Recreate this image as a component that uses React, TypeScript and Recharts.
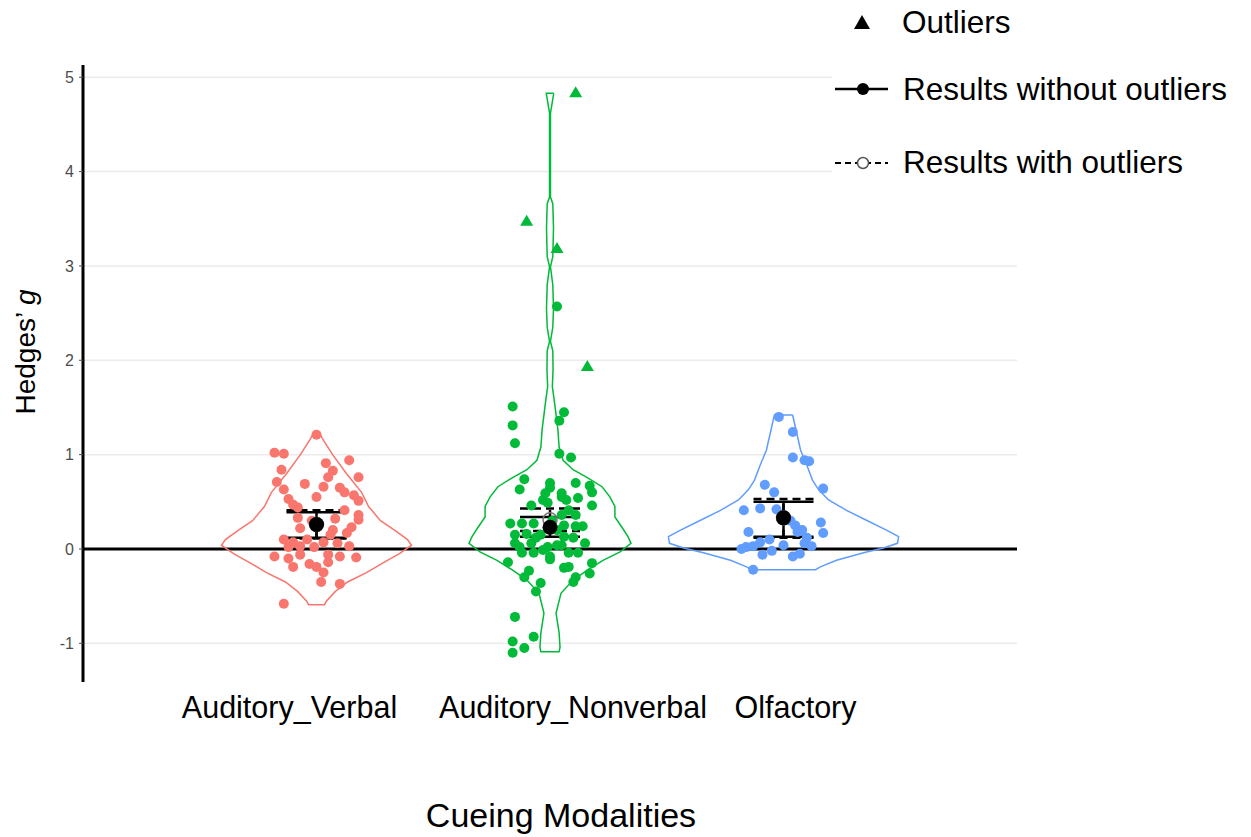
import {
  CartesianGrid,
  ComposedChart,
  ErrorBar,
  Legend,
  ReferenceLine,
  Scatter,
  XAxis,
  YAxis,
} from 'recharts';

const CATEGORIES = ['Auditory_Verbal', 'Auditory_Nonverbal', 'Olfactory'];
const LABEL_SHIFT = [-27, 23, 12];
const Y_TICKS = [-1, 0, 1, 2, 3, 4, 5];
const COLORS = ['#F8766D', '#00BA38', '#619CFF'];

// violin outlines, top to bottom: [g, half width in category units]
const VIOLIN_VERBAL = [
  [1.21, 0.017], [1.15, 0.03], [1.0, 0.069], [0.8, 0.128], [0.6, 0.193], [0.45, 0.223],
  [0.3, 0.274], [0.2, 0.334], [0.1, 0.39], [0.04, 0.407], [-0.05, 0.355], [-0.15, 0.283],
  [-0.25, 0.214], [-0.35, 0.133], [-0.45, 0.081], [-0.55, 0.043], [-0.59, 0.034],
];
const VIOLIN_NONVERBAL = [
  [4.83, 0.016], [4.62, 0.002], [3.73, 0.002], [3.66, 0.012], [3.4, 0.015], [3.1, 0.012],
  [2.99, 0.002], [2.8, 0.012], [2.55, 0.015], [2.35, 0.012], [2.2, 0.002], [2.1, 0.012],
  [1.9, 0.013], [1.72, 0.01], [1.58, 0.018], [1.26, 0.034], [1.08, 0.039], [0.94, 0.056],
  [0.84, 0.099], [0.76, 0.158], [0.66, 0.223], [0.55, 0.257], [0.45, 0.278], [0.34, 0.278],
  [0.23, 0.308], [0.13, 0.334], [0.06, 0.347], [-0.03, 0.3], [-0.12, 0.227], [-0.22, 0.163],
  [-0.33, 0.099], [-0.47, 0.047], [-0.68, 0.026], [-0.89, 0.039], [-1.04, 0.043], [-1.09, 0.039],
];
const VIOLIN_OLFACTORY = [
  [1.42, 0.039], [1.29, 0.051], [1.05, 0.073], [0.87, 0.103], [0.73, 0.124], [0.63, 0.15],
  [0.52, 0.193], [0.41, 0.27], [0.31, 0.351], [0.2, 0.441], [0.13, 0.493], [0.06, 0.488],
  [0.01, 0.428], [-0.04, 0.343], [-0.12, 0.227], [-0.19, 0.158], [-0.22, 0.137],
];

// study effect sizes: [jitter, g]
const POINTS_VERBAL = [
  [0.0, 1.21], [-0.18, 1.02], [-0.14, 1.01], [0.14, 0.94], [0.04, 0.91], [-0.15, 0.84],
  [0.07, 0.83], [0.05, 0.76], [0.18, 0.76], [-0.17, 0.71], [-0.05, 0.69], [0.03, 0.66],
  [0.1, 0.65], [-0.14, 0.63], [0.12, 0.6], [0.16, 0.57], [0.0, 0.55], [-0.12, 0.53],
  [0.18, 0.51], [-0.1, 0.47], [-0.08, 0.44], [0.18, 0.36], [0.18, 0.31], [-0.08, 0.33],
  [0.15, 0.23], [-0.07, 0.22], [0.07, 0.2], [0.13, 0.17], [-0.14, 0.1], [-0.1, 0.07],
  [-0.04, 0.1], [0.03, 0.07], [0.09, 0.06], [-0.12, 0.02], [-0.07, 0.03], [-0.18, -0.08],
  [-0.12, -0.1], [-0.07, -0.06], [0.05, -0.06], [0.1, -0.08], [0.17, -0.09], [-0.1, -0.19],
  [-0.03, -0.16], [0.0, -0.19], [0.03, -0.25], [0.05, -0.14], [0.02, -0.35], [0.1, -0.37],
  [-0.14, -0.58], [0.12, 0.41], [-0.02, 0.3], [0.08, 0.32], [0.14, 0.03], [-0.01, 0.02],
  [0.06, 0.15],
];
const POINTS_NONVERBAL = [
  [-0.16, 1.51], [-0.16, 1.31], [-0.15, 1.12], [0.06, 1.45], [0.04, 1.36], [0.04, 1.01],
  [0.09, 0.97], [-0.11, 0.74], [-0.13, 0.63], [0.0, 0.7], [0.0, 0.65], [0.11, 0.7],
  [0.17, 0.67], [0.18, 0.6], [0.05, 0.55], [0.12, 0.54], [-0.08, 0.46], [0.18, 0.46],
  [-0.01, 0.49], [0.08, 0.41], [-0.17, 0.27], [-0.12, 0.27], [-0.07, 0.27], [0.14, 0.24],
  [0.11, 0.24], [-0.15, 0.15], [-0.1, 0.16], [-0.04, 0.15], [0.06, 0.13], [0.15, 0.06],
  [-0.15, 0.06], [-0.08, 0.06], [0.03, 0.04], [-0.12, -0.04], [-0.07, -0.04], [-0.03, -0.01],
  [0.08, -0.04], [0.12, -0.04], [-0.18, -0.14], [0.0, -0.11], [0.18, -0.15], [-0.09, -0.23],
  [0.06, -0.2], [0.08, -0.19], [0.17, -0.26], [-0.11, -0.3], [0.11, -0.3], [0.1, -0.35],
  [-0.04, -0.36], [-0.06, -0.45], [-0.15, -0.72], [-0.07, -0.93], [-0.16, -0.98],
  [-0.11, -1.05], [-0.16, -1.1], [0.03, 2.57], [0.05, 0.36], [0.11, 0.36], [0.06, 0.25],
  [-0.06, 0.12], [0.1, 0.12], [-0.01, 0.02], [0.05, 0.04], [-0.03, 0.52], [0.07, 0.52],
  [-0.02, 0.59], [0.05, 0.59], [0.0, -0.08], [-0.13, 0.02], [0.01, 0.3], [0.03, 0.2],
];
const OUTLIERS_NONVERBAL = [[0.11, 4.84], [-0.1, 3.48], [0.03, 3.19], [0.16, 1.94]];
const POINTS_OLFACTORY = [
  [-0.02, 1.4], [0.04, 1.24], [0.04, 0.97], [0.09, 0.94], [0.11, 0.93], [0.17, 0.64],
  [-0.08, 0.68], [-0.04, 0.6], [-0.17, 0.41], [-0.1, 0.43], [-0.03, 0.42], [0.16, 0.28],
  [0.17, 0.17], [-0.15, 0.18], [0.05, 0.25], [0.06, 0.18], [-0.1, 0.07], [-0.06, 0.1],
  [-0.16, 0.02], [-0.13, 0.03], [0.0, 0.04], [0.09, 0.06], [-0.18, 0.0], [0.04, -0.08],
  [0.07, -0.05], [-0.09, -0.06], [-0.13, -0.22], [0.08, 0.2], [0.1, 0.12], [-0.05, -0.02],
  [0.03, 0.3], [0.12, 0.03],
];

// pooled estimates with 95% CI
const MEAN_WITHOUT = [0.26, 0.23, 0.33];
const LOW_WITHOUT = [0.12, 0.13, 0.13];
const HIGH_WITHOUT = [0.39, 0.34, 0.5];
const MEAN_WITH = [0.26, 0.31, 0.33];
const LOW_WITH = [0.11, 0.19, 0.12];
const HIGH_WITH = [0.41, 0.43, 0.53];

const FONT = '"Liberation Sans", Arial, sans-serif';

const outline = (pos: number, rows: number[][]) => {
  const right = rows.map(([g, w]) => ({ x: pos + w, y: g }));
  const left = [...rows].reverse().map(([g, w]) => ({ x: pos - w, y: g }));
  return [...right, ...left, right[0]];
};

const jittered = (pos: number, rows: number[][]) =>
  rows.map(([j, g]) => ({ x: pos + j, y: g }));

const summary = (mean: number[], low: number[], high: number[]) =>
  mean.map((m, i) => ({ x: i + 1, y: m, err: [m - low[i], high[i] - m] }));

const violins = [VIOLIN_VERBAL, VIOLIN_NONVERBAL, VIOLIN_OLFACTORY].map((v, i) => outline(i + 1, v));
const points = [POINTS_VERBAL, POINTS_NONVERBAL, POINTS_OLFACTORY].map((p, i) => jittered(i + 1, p));
const outliers = jittered(2, OUTLIERS_NONVERBAL);
const withoutOutliers = summary(MEAN_WITHOUT, LOW_WITHOUT, HIGH_WITHOUT);
const withOutliers = summary(MEAN_WITH, LOW_WITH, HIGH_WITH);

const dot = (color: string) => (p: any) => <circle cx={p.cx} cy={p.cy} r={5} fill={color} />;
const tri = (color: string) => (p: any) => (
  <polygon
    points={`${p.cx},${p.cy - 6} ${p.cx - 6.5},${p.cy + 5} ${p.cx + 6.5},${p.cy + 5}`}
    fill={color}
  />
);

function XTick(props: any) {
  const i = props.payload.value - 1;
  return (
    <text x={props.x + LABEL_SHIFT[i]} y={props.y + 34} textAnchor="middle" fontSize={30.5} fill="#000">
      {CATEGORIES[i]}
    </text>
  );
}

function LegendBox() {
  return (
    <svg width={427} height={188}>
      <polygon points="22,15 38,15 30,29" fill="#000" transform="rotate(180 30 22)" />
      <text x={70} y={33} fontSize={31.5} fontFamily={FONT}>Outliers</text>
      <line x1={3} x2={56} y1={89} y2={89} stroke="#000" strokeWidth={2.5} />
      <circle cx={31} cy={89} r={6} fill="#000" />
      <text x={71} y={100} fontSize={31.5} fontFamily={FONT}>Results without outliers</text>
      <line x1={3} x2={56} y1={163} y2={163} stroke="#000" strokeWidth={2} strokeDasharray="6 4" />
      <circle cx={31} cy={163} r={5.5} fill="#fff" stroke="#555" strokeWidth={1.5} />
      <text x={71} y={173} fontSize={31.5} fontFamily={FONT}>Results with outliers</text>
    </svg>
  );
}

export default function App() {
  return (
    <div style={{ fontFamily: FONT }}>
      <ComposedChart width={1243} height={829} margin={{ top: 57, right: 234, bottom: 5, left: 0 }}>
        <CartesianGrid
          vertical={false}
          stroke="#EBEBEB"
          strokeWidth={1.5}
          syncWithTicks
          horizontalValues={Y_TICKS}
        />
        <XAxis
          type="number"
          dataKey="x"
          domain={[0, 4]}
          ticks={[1, 2, 3]}
          allowDataOverflow
          axisLine={false}
          tickLine={false}
          tickSize={0}
          tick={<XTick />}
          height={150}
          label={{
            content: (p: any) => (
              <text
                x={p.viewBox.x + p.viewBox.width / 2 + 11}
                y={p.viewBox.y + 145}
                textAnchor="middle"
                fontSize={34}
                fill="#000"
              >
                Cueing Modalities
              </text>
            ),
          }}
        />
        <YAxis
          type="number"
          dataKey="y"
          domain={[-1.41, 5.13]}
          ticks={Y_TICKS}
          allowDataOverflow
          width={75}
          axisLine={{ stroke: '#000', strokeWidth: 3 }}
          tickLine={{ stroke: '#4D4D4D' }}
          tickSize={4}
          tickMargin={5}
          tick={{ fontSize: 16, fill: '#4D4D4D' }}
          label={{
            content: () => (
              <text x={27} y={344} transform="rotate(-90 27 344)" textAnchor="middle" fontSize={28} fill="#000">
                Hedges’ <tspan fontStyle="italic">g</tspan>
              </text>
            ),
          }}
        />
        {violins.map((v, i) => (
          <Scatter
            key={`v${i}`}
            data={v}
            fill="none"
            line={{ stroke: COLORS[i], strokeWidth: 1.5 }}
            shape={() => <g />}
            isAnimationActive={false}
          />
        ))}
        {points.map((p, i) => (
          <Scatter key={`p${i}`} data={p} fill={COLORS[i]} shape={dot(COLORS[i])} isAnimationActive={false} />
        ))}
        <Scatter data={outliers} fill={COLORS[1]} shape={tri(COLORS[1])} isAnimationActive={false} />
        <ReferenceLine y={0} stroke="#000" strokeWidth={3} />
        <Scatter
          data={withOutliers}
          fill="none"
          shape={(p: any) => <circle cx={p.cx} cy={p.cy} r={7} fill="none" stroke="#777" strokeWidth={1.5} />}
          isAnimationActive={false}
        >
          <ErrorBar
            dataKey="err"
            direction="y"
            width={30}
            stroke="#000"
            strokeWidth={2.5}
            strokeDasharray="8 5"
            isAnimationActive={false}
          />
        </Scatter>
        <Scatter
          data={withoutOutliers}
          fill="#000"
          shape={(p: any) => <circle cx={p.cx} cy={p.cy} r={7.5} fill="#000" />}
          isAnimationActive={false}
        >
          <ErrorBar dataKey="err" direction="y" width={30} stroke="#000" strokeWidth={2.5} isAnimationActive={false} />
        </Scatter>
        <Legend
          layout="horizontal"
          verticalAlign="middle"
          align="center"
          wrapperStyle={{ left: 824, top: -8, width: 427, height: 188, background: '#fff' }}
          content={() => <LegendBox />}
        />
      </ComposedChart>
    </div>
  );
}
